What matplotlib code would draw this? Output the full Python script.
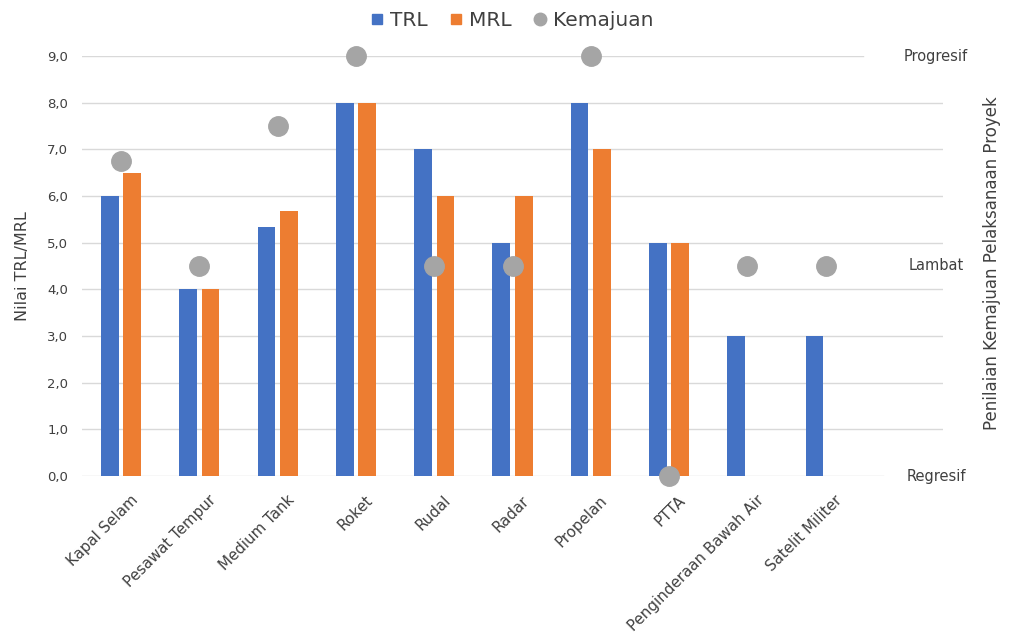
import matplotlib
matplotlib.use("Agg")
import matplotlib.pyplot as plt
import matplotlib.transforms as mtransforms
from matplotlib.lines import Line2D
import numpy as np

categories = ["Kapal Selam", "Pesawat Tempur", "Medium Tank", "Roket", "Rudal",
              "Radar", "Propelan", "PTTA", "Penginderaan Bawah Air", "Satelit Militer"]
trl = [6.0, 4.0, 5.33, 8.0, 7.0, 5.0, 8.0, 5.0, 3.0, 3.0]
mrl = [6.5, 4.0, 5.67, 8.0, 6.0, 6.0, 7.0, 5.0, 0.0, 0.0]
kemajuan = [6.75, 4.5, 7.5, 9.0, 4.5, 4.5, 9.0, 0.0, 4.5, 4.5]
yticks = [0, 1, 2, 3, 4, 5, 6, 7, 8, 9]
right_labels = [(9.0, "Progresif"), (4.5, "Lambat"), (0.0, "Regresif")]

BLUE = "#4472C4"
ORANGE = "#ED7D31"
GRAY = "#A5A5A5"
TXT = "#404040"

plt.rcParams['font.family'] = ['DejaVu Sans']

W, H = 1009, 644
fig = plt.figure(figsize=(W / 100, H / 100), dpi=100)
L, R, T, B = 82, 943, 56, 476
ax = fig.add_axes([L / W, 1 - B / H, (R - L) / W, (B - T) / H])

x = np.arange(len(categories))
bw = 0.226
off = 0.143
ax.bar(x - off, trl, bw, color=BLUE, zorder=3)
ax.bar(x + off, mrl, bw, color=ORANGE, zorder=3)
ax.plot(x, kemajuan, linestyle="none", marker="o", markersize=14,
        color=GRAY, zorder=4, clip_on=False)

ax.set_xlim(-0.5, 10.5)
ax.set_ylim(0, 9)

# gridlines (some partially hidden by right-side labels)
for v in yticks:
    xmax = 1.0
    if v == 9:
        xmax = (863 - L) / (R - L)
    elif v == 0:
        xmax = (883 - L) / (R - L)
    ax.axhline(v, xmin=0, xmax=xmax, color="#D9D9D9", linewidth=1.0, zorder=1)

ax.set_yticks(yticks)
ax.set_yticklabels([f"{v:.1f}".replace(".", ",") for v in yticks],
                   fontsize=9.5, color=TXT)
ax.set_xticks(x)
ax.set_xticklabels(categories, rotation=45, ha="right", rotation_mode="anchor",
                   fontsize=10.8, color=TXT)
ax.tick_params(axis="both", length=0)
ax.tick_params(axis="y", pad=10)
ax.tick_params(axis="x", pad=12)
shift = mtransforms.ScaledTranslation(9 / 100, 0, fig.dpi_scale_trans)
for lbl in ax.get_xticklabels():
    lbl.set_transform(lbl.get_transform() + shift)
for s in ax.spines.values():
    s.set_visible(False)

ax.set_ylabel("Nilai TRL/MRL", fontsize=11.5, color=TXT, labelpad=12)

for val, lab in right_labels:
    ax.text(1.0 - 7 / (R - L), val, lab, transform=ax.get_yaxis_transform(),
            ha="center", va="center", fontsize=10.5, color=TXT, clip_on=False)

fig.text(992 / W, 1 - 263 / H, "Penilaian Kemajuan Pelaksanaan Proyek",
         rotation=90, ha="center", va="center", fontsize=12, color=TXT)

handles = [
    Line2D([], [], linestyle="none", marker="s", markersize=6.5, color=BLUE),
    Line2D([], [], linestyle="none", marker="s", markersize=6.5, color=ORANGE),
    Line2D([], [], linestyle="none", marker="o", markersize=9, color=GRAY),
]
fig.legend(handles, ["TRL", "MRL", "Kemajuan"], loc="center",
           bbox_to_anchor=(512 / W, 1 - 21 / H), ncol=3, frameon=False,
           fontsize=14.5, handlelength=0.6, handletextpad=0.35,
           columnspacing=1.1, labelcolor=TXT, borderpad=0.2)

fig.savefig("out.png", dpi=100, facecolor="white")
